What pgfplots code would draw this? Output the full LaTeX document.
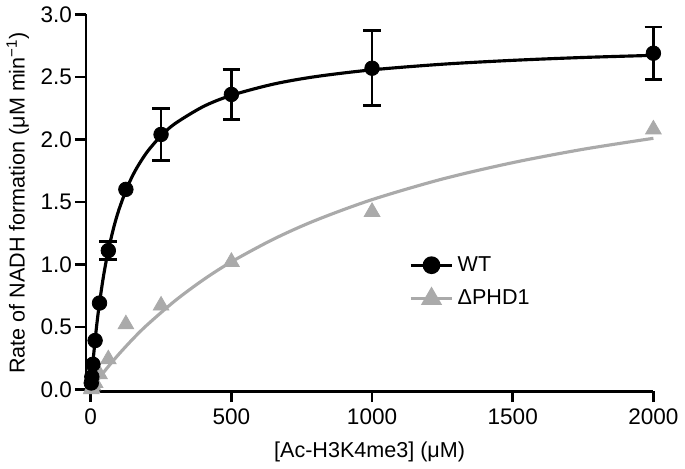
\documentclass[border=0pt]{standalone}
\usepackage{pgfplots}
\pgfplotsset{compat=1.18}
\usepackage{fontspec}
\setmainfont{Liberation Sans}
\definecolor{grey}{RGB}{170,170,170}
\begin{document}
\begin{tikzpicture}
\begin{axis}[
  scale only axis,
  width=288.5bp, height=191.5bp,
  xmin=-17.5, xmax=2000, ymin=-0.016, ymax=3.0,
  axis lines*=left,
  axis line style={line width=1.3bp, black},
  every tick/.style={line width=1.3bp, black},
  tick align=outside, major tick length=5.5bp,
  xtick={0,500,1000,1500,2000},
  ytick={0,0.5,1,1.5,2,2.5,3},
  xticklabel style={/pgf/number format/.cd, set thousands separator={}},
  yticklabel style={xshift=2bp, /pgf/number format/.cd, fixed, fixed zerofill, precision=1},
  /pgf/number format/assume math mode=true,
  ticklabel style={font=\fontsize{11.5}{13}\selectfont},
  label style={font=\fontsize{11}{13}\selectfont},
  xlabel style={yshift=-2bp},
  ylabel style={yshift=-1bp},
  xlabel={[Ac-H3K4me3] (μM)},
  ylabel={Rate of NADH formation (μM min\textsuperscript{−1})},
  clip=false,
  legend style={draw=none, fill=none, at={(axis cs:1110,1.13)}, anchor=north west,
    font=\fontsize{11}{13}\selectfont, row sep=4bp},
  legend cell align=left,
  legend image code/.code={\draw[#1] (0bp,0bp) -- (21bp,0bp); \draw[#1, mark repeat=2, mark phase=2] plot coordinates {(0bp,0bp) (10.5bp,0bp) (21bp,0bp)};},
]
% Delta PHD1 fit
\addplot[grey, line width=1.6bp, no marks, smooth, forget plot] coordinates {
(0,0) (10,0.031) (30,0.09) (60,0.175) (100,0.281) (150,0.403) (200,0.514) (300,0.709) (400,0.876) (500,1.02) (650,1.202) (800,1.353) (1000,1.518) (1250,1.683) (1500,1.814) (1750,1.921) (2000,2.009)};
% Delta PHD1 data
\addplot[only marks, mark=triangle*, mark size=4.6bp, grey, forget plot] coordinates {
(1.95,0.0) (3.9,0.01) (7.8,0.03) (15.6,0.05) (31.25,0.12) (62.5,0.24) (125,0.52) (250,0.67) (500,1.02) (1000,1.42) (2000,2.08)};
% WT fit
\addplot[black, line width=1.6bp, no marks, smooth, forget plot] coordinates {
(0,0) (5,0.14) (10,0.267) (20,0.487) (30,0.672) (45,0.9) (60,1.084) (80,1.28) (100,1.436) (130,1.618) (160,1.757) (200,1.898) (250,2.029) (300,2.127) (400,2.263) (500,2.353) (650,2.443) (800,2.503) (1000,2.557) (1250,2.602) (1500,2.633) (1750,2.656) (2000,2.673)};
% WT error bars
\addplot[only marks, mark=none, black, forget plot,
  error bars/.cd, y dir=both, y explicit, error bar style={line width=1.4bp},
  error mark options={rotate=90, mark size=4.5bp, line width=1.4bp}]
 coordinates {
(62.5,1.11) +- (0,0.07)
(250,2.04) +- (0,0.21)
(500,2.36) +- (0,0.20)
(1000,2.57) +- (0,0.30)
(2000,2.69) +- (0,0.21)};
% WT data
\addplot[only marks, mark=*, mark size=3.7bp, black, forget plot] coordinates {
(1.95,0.05) (3.9,0.10) (7.8,0.20) (15.6,0.39) (31.25,0.69) (62.5,1.11) (125,1.60) (250,2.04) (500,2.36) (1000,2.57) (2000,2.69)};
\addlegendimage{black, line width=1.6bp, mark=*, mark size=3.7bp}
\addlegendentry{WT}
\addlegendimage{grey, line width=1.6bp, mark=triangle*, mark size=4.6bp}
\addlegendentry{ΔPHD1}
\end{axis}
\end{tikzpicture}
\end{document}
